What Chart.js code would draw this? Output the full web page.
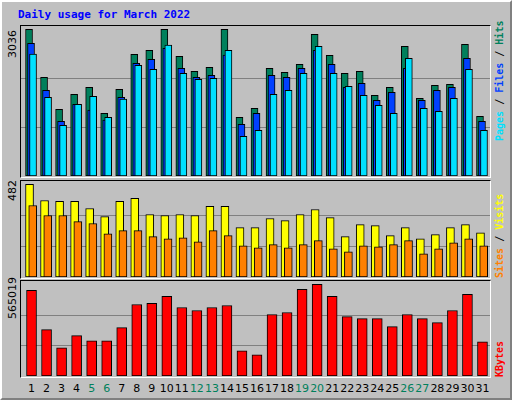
<!DOCTYPE html>
<html><head><meta charset="utf-8">
<script src="https://cdn.jsdelivr.net/npm/chart.js@4"></script>
<style>
body{margin:0;background:#fff;}
#wrap{position:absolute;left:0;top:0;width:508px;height:396px;background:#C0C0C0;border-top:2px solid #fff;border-left:2px solid #fff;border-right:2px solid #808080;border-bottom:2px solid #808080;}
#outer{position:absolute;left:0;top:0;width:510px;height:398px;border:1px solid #000;box-sizing:content-box;}
.frame{position:absolute;border-top:1px solid #000;border-left:1px solid #000;border-right:1px solid #fff;border-bottom:1px solid #fff;}
canvas{position:absolute;}
.t{position:absolute;font-family:"DejaVu Sans";font-size:11px;white-space:nowrap;}
.rot{transform-origin:0 0;transform:rotate(-90deg);}
.mono{font-family:"DejaVu Sans Mono";}
</style></head><body>
<div id="outer"></div>
<div id="wrap"></div>
<div class="frame" style="left:20px;top:25px;width:469px;height:151px"></div>
<div class="frame" style="left:20px;top:180px;width:469px;height:97px"></div>
<div class="frame" style="left:20px;top:280px;width:469px;height:96px"></div>
<canvas id="c1" width="469" height="150" style="left:21px;top:26px"></canvas>
<canvas id="c2" width="469" height="96" style="left:21px;top:181px"></canvas>
<canvas id="c3" width="469" height="95" style="left:21px;top:281px"></canvas>
<div class="t mono" style="left:18px;top:8px;color:#0000FF;font-weight:bold;font-size:11px">Daily usage for March 2022</div>
<div class="t rot" style="left:6px;top:58px;color:#000">3036</div>
<div class="t rot" style="left:6px;top:201px;color:#000">482</div>
<div class="t rot" style="left:6px;top:319px;color:#000">565019</div>
<div class="t rot mono" style="left:494px;top:141px;font-size:10px;font-weight:bold"><span style="color:#00E0FF">Pages</span> / <span style="color:#0040FF">Files</span> / <span style="color:#00805C">Hits</span></div>
<div class="t rot mono" style="left:494px;top:278px;font-size:10px;font-weight:bold"><span style="color:#FF8000">Sites</span> / <span style="color:#FFFF00">Visits</span></div>
<div class="t rot mono" style="left:494px;top:377px;font-size:10px;font-weight:bold;color:#FF0000">KBytes</div>
<div id="xl"></div>
<script>
const days = Array.from({length:31},(_,i)=>i+1);
const weekendDays = [5,6,12,13,19,20,26,27];
const hits  = [3036,2042,1380,1690,1835,1297,1794,2518,2601,3036,2477,2167,2249,3036,1214,1401,2229,2146,2312,2933,2498,2125,2167,1670,1835,2684,1608,1877,1898,2726,1235];
const files = [2746,1773,1132,1484,1366,1159,1628,2332,2415,2643,2229,2042,2084,2505,1070,1297,2084,2042,2229,2601,2312,1835,1918,1566,1732,2229,1566,1773,1835,2436,1132];
const pages = [2525,1628,1049,1484,1649,1214,1594,2291,2208,2712,2125,2001,2022,2601,821,945,1690,1773,2125,2684,2125,1856,1670,1463,1297,2436,1401,1339,1608,2208,945];
const visits= [482,398,393,393,356,314,393,409,325,320,325,320,367,367,257,257,304,293,325,351,309,210,272,267,215,257,199,220,257,272,230];
const sites = [372,320,320,288,278,225,241,241,210,199,204,183,241,215,162,152,168,152,168,189,147,131,162,157,168,189,120,147,178,199,162];
const kbytes= [527800,285600,173900,248400,217300,217300,298000,440800,447000,490500,422200,403600,422200,434600,155200,130400,378800,391200,534000,565019,490500,366300,353900,353900,304200,378800,353900,329100,403600,502900,211100];
const maxHits=3036, maxVisits=482, maxK=565019;

const grid={id:'g',beforeDatasetsDraw(ch,a,o){const y=ch.scales.y,c=ch.ctx;c.save();c.strokeStyle='#808080';c.lineWidth=1;
 for(const v of o.lines){const p=Math.round(y.getPixelForValue(v))+0.5;c.beginPath();c.moveTo(0,p);c.lineTo(ch.width,p);c.stroke();}c.restore();}};
function ds(vals,off,color,th,order){return {data:vals.map((v,i)=>({x:days[i]+off,y:v})),backgroundColor:color,borderColor:'#000',borderWidth:1,barThickness:th,grouped:false,order:order,borderSkipped:false};}
function mk(id,sets,ymax,max){return new Chart(document.getElementById(id),{type:'bar',data:{datasets:sets},
 options:{responsive:false,animation:false,events:[],layout:{padding:0},plugins:{legend:{display:false},tooltip:{enabled:false},g:{lines:[max/3,2*max/3]}},
 scales:{x:{type:'linear',min:0.3,max:31.5,offset:false,display:false},y:{min:0,max:ymax,display:false}}},plugins:[grid]});}
mk('c1',[ds(hits,-0.166,'#00805C',7,3),ds(files,-0.033,'#0040FF',7,2),ds(pages,0.1,'#00E0FF',7,1)],maxHits*150/146.7,maxHits);
mk('c2',[ds(visits,-0.133,'#FFFF00',8,2),ds(sites,0.08,'#FF8000',8,1)],maxVisits*96/92.7,maxVisits);
const c3=mk('c3',[ds(kbytes,0,'#FF0000',10,1)],maxK*95/91.7,maxK);
const xl=document.getElementById('xl');
days.forEach(d=>{const e=document.createElement('div');e.className='t';e.textContent=d;
 e.style.color=weekendDays.includes(d)?'#00805C':'#000';
 const px=21+c3.scales.x.getPixelForValue(d);e.style.left=px+'px';e.style.top='382px';e.style.transform='translateX(-50%)';xl.appendChild(e);});
</script></body></html>
